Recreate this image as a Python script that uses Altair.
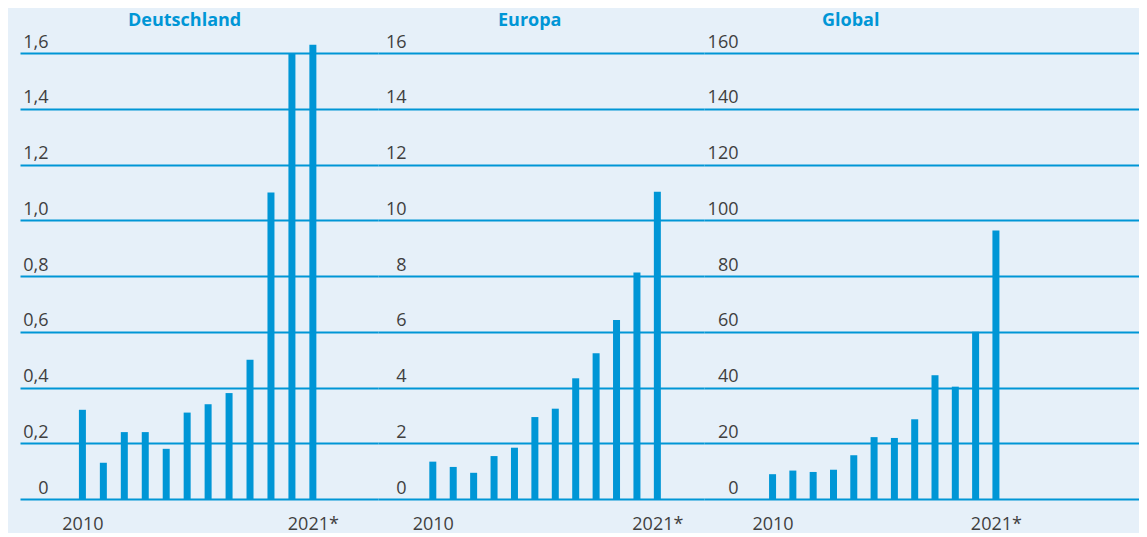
import altair as alt
import pandas as pd

years = list(range(2010, 2022))
de_values = [0.32, 0.13, 0.24, 0.24, 0.18, 0.31, 0.34, 0.38, 0.50, 1.10, 1.60, 1.63]
eu_values = [1.34, 1.15, 0.94, 1.54, 1.84, 2.94, 3.24, 4.33, 5.23, 6.42, 8.13, 11.02]
gl_values = [8.9, 10.2, 9.7, 10.5, 15.7, 22.2, 21.9, 28.6, 44.4, 40.3, 60.0, 96.3]

panel_titles = ["Deutschland", "Europa", "Global"]
y_ticks = [
    [0, 0.2, 0.4, 0.6, 0.8, 1.0, 1.2, 1.4, 1.6],
    [0, 2, 4, 6, 8, 10, 12, 14, 16],
    [0, 20, 40, 60, 80, 100, 120, 140, 160],
]
x_label_years = [2010, 2021]

BLUE = "#0096d6"
TEXT = "#3f3f3f"
BG = "#e6f0f9"
FONT = "Open Sans"

panels = [
    dict(values=de_values, width=358, xdom=[2007.26, 2023.87], dx=108, lpad=-28,
         label_expr="datum.value == 0 ? '0' : replace(format(datum.value, '.1f'), '.', ',')"),
    dict(values=eu_values, width=326, xdom=[2007.56, 2023.04], dx=120, lpad=-28,
         label_expr="format(datum.value, 'd')"),
    dict(values=gl_values, width=435, xdom=[2006.87, 2027.8], dx=118, lpad=-34,
         label_expr="format(datum.value, 'd')"),
]

charts = []
for title, ticks, p in zip(panel_titles, y_ticks, panels):
    df = pd.DataFrame({"Jahr": years, "Wert": p["values"]})
    c = alt.Chart(df).mark_bar(size=7, color=BLUE).encode(
        x=alt.X("Jahr:Q",
                scale=alt.Scale(domain=p["xdom"], nice=False, zero=False),
                axis=alt.Axis(values=x_label_years,
                              labelExpr="datum.value == 2021 ? '2021*' : '2010'",
                              grid=False, ticks=False, tickSize=0, domain=False,
                              labelPadding=16, labelFontSize=18, labelColor=TEXT,
                              labelFont=FONT, title=None, labelFlush=False)),
        y=alt.Y("Wert:Q",
                scale=alt.Scale(domain=[ticks[0], ticks[-1]], nice=False),
                axis=alt.Axis(values=ticks, labelExpr=p["label_expr"],
                              grid=True, gridColor=BLUE, gridWidth=1.8,
                              ticks=False, tickSize=0, domain=False,
                              labelAlign="right", labelBaseline="bottom",
                              labelPadding=p["lpad"], labelOffset=-2,
                              labelFontSize=18, labelColor=TEXT, labelFont=FONT,
                              title=None, minExtent=0)),
    ).properties(
        width=p["width"], height=446,
        title=alt.TitleParams(title, anchor="start", dx=p["dx"], fontSize=18,
                              font=FONT, fontWeight="bold", color=BLUE, offset=3),
    )
    charts.append(c)

chart = alt.hconcat(*charts, spacing=0).properties(
    background=BG,
    padding={"left": 12, "top": 4, "right": 0, "bottom": 0},
).configure_view(stroke=None).configure_concat(spacing=0)

chart.save("out.html", embed_options={"renderer": "svg", "actions": False})
